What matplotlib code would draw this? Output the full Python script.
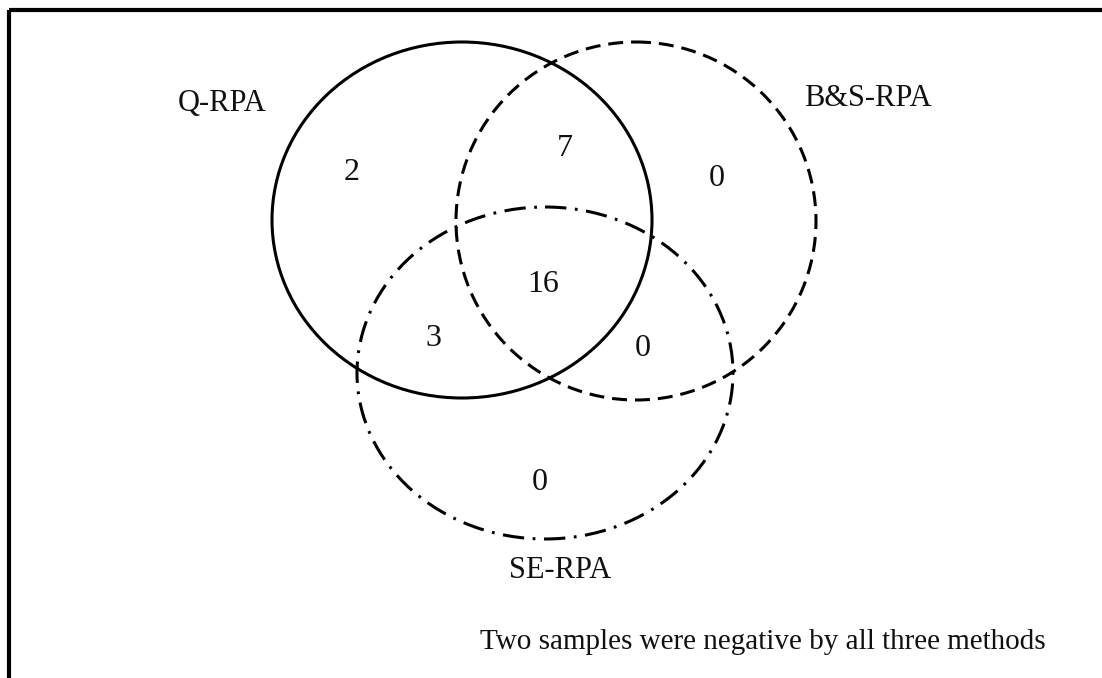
import matplotlib
matplotlib.use("Agg")
import matplotlib.pyplot as plt
from matplotlib.patches import Ellipse

# set names and counts per region
set_names = ["Q-RPA", "B&S-RPA", "SE-RPA"]
region_keys = ["Q", "QB", "B", "QBS", "QS", "BS", "S"]
region_counts = [2, 7, 0, 16, 3, 0, 0]
note = "Two samples were negative by all three methods"

# layout, in pixels of the 1102x678 picture
W, H = 1102, 678
circles = {
    "Q-RPA": dict(center=(462, 220), w=380, h=356, ls="-"),
    "B&S-RPA": dict(center=(636, 221), w=360, h=358, ls=(0, (4.9, 2.6))),
    "SE-RPA": dict(center=(545, 373), w=376, h=332, ls=(0, (7.0, 2.8, 0.9, 2.8))),
}
name_pos = {"Q-RPA": (222, 103), "B&S-RPA": (868, 99), "SE-RPA": (560, 571)}
count_pos = {
    "Q": (352, 173), "QB": (565, 148), "B": (717, 178), "QBS": (543, 285),
    "QS": (433, 338), "BS": (643, 349), "S": (540, 483),
}

plt.rcParams['font.family'] = ['Liberation Serif', 'DejaVu Serif']

fig = plt.figure(figsize=(W / 100, H / 100), dpi=100)
ax = fig.add_axes([0, 0, 1, 1])
ax.set_xlim(0, W)
ax.set_ylim(H, 0)
ax.axis("off")

for name in set_names:
    c = circles[name]
    e = Ellipse(c["center"], c["w"], c["h"], fill=False, edgecolor="black",
                linewidth=2.2, linestyle=c["ls"])
    ax.add_patch(e)
    x, y = name_pos[name]
    ax.text(x, y, name, fontsize=22, ha="center", va="center", color="#111111")

for key, n in zip(region_keys, region_counts):
    x, y = count_pos[key]
    ax.text(x, y, str(n), fontsize=23, ha="center", va="center", color="#111111")

ax.text(480, 642, note, fontsize=21, ha="left", va="center", color="#111111")

# frame: only top and left edges are visible in the crop
ax.plot([9, W], [10, 10], color="black", linewidth=3, solid_capstyle="butt")
ax.plot([9, 9], [10, H], color="black", linewidth=3, solid_capstyle="butt")

fig.savefig("out.png", dpi=100)
